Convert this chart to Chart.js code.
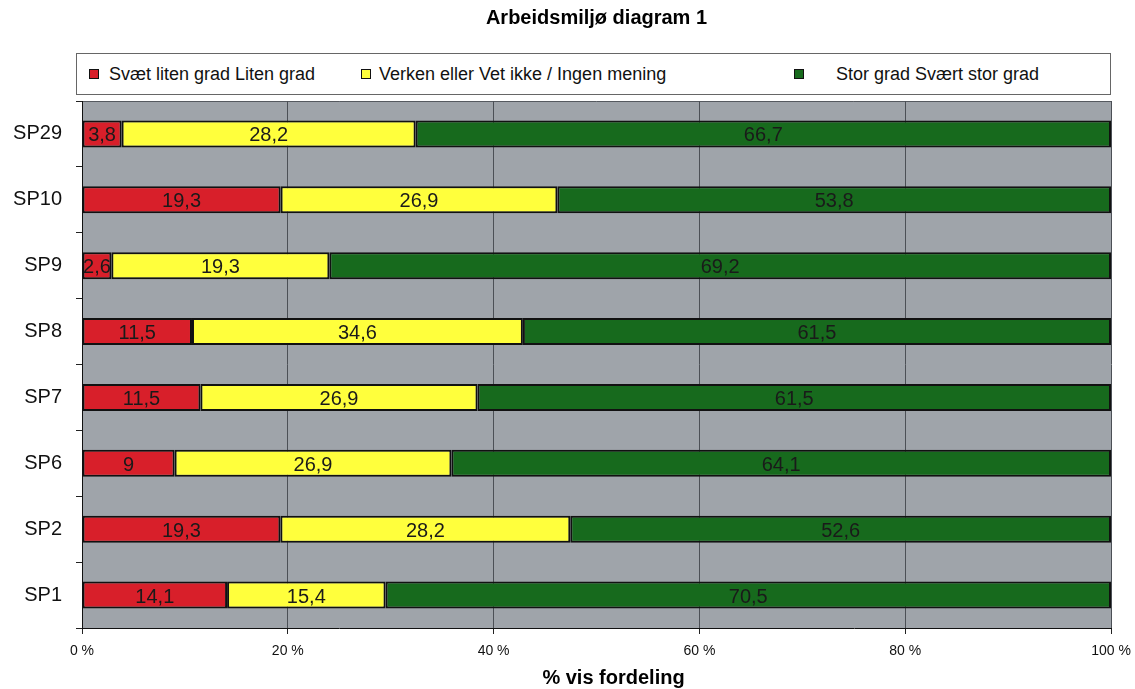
<!DOCTYPE html>
<html>
<head>
<meta charset="utf-8">
<script src="https://cdn.jsdelivr.net/npm/chart.js@4"></script>
<style>
  body { margin: 0; background: #fff; }
  #wrap { position: relative; width: 1135px; height: 689px; }
  #legend {
    position: absolute; left: 76px; top: 53px; width: 1033px; height: 40px;
    border: 1px solid #666; background: #fff;
    font-family: Arial, "Liberation Sans", sans-serif; font-size: 18px; color: #111;
  }
  .item { position: absolute; top: 0; height: 40px; line-height: 40px; white-space: nowrap; }
  .swatch {
    position: absolute; top: 15px; width: 8px; height: 8px; border: 1px solid #111;
  }
</style>
</head>
<body>
<div id="wrap">
  <canvas id="chart" width="1135" height="689"></canvas>
  <div id="legend"></div>
</div>
<script>
// Survey groups, top to bottom
const groups = ['SP29', 'SP10', 'SP9', 'SP8', 'SP7', 'SP6', 'SP2', 'SP1'];

// Answer shares per group (as printed on the bars)
const lowValues = [3.8, 19.3, 2.6, 11.5, 11.5, 9, 19.3, 14.1];
const neutralValues = [28.2, 26.9, 19.3, 34.6, 26.9, 26.9, 28.2, 15.4];
const highValues = [66.7, 53.8, 69.2, 61.5, 61.5, 64.1, 52.6, 70.5];

const seriesNames = ['Svæt liten grad Liten grad', 'Verken eller Vet ikke / Ingen mening', 'Stor grad Svært stor grad'];
const seriesColors = ['#d81f2a', '#ffff3c', '#176a1d'];
const xTicks = [0, 20, 40, 60, 80, 100];
const xTitle = '% vis fordeling';

const FONT = 'Arial, "Liberation Sans", sans-serif';

// Each row is shown as a 100 % split of its own total
const rowTotals = groups.map((g, i) => lowValues[i] + neutralValues[i] + highValues[i]);
const toPercent = arr => arr.map((v, i) => v / rowTotals[i] * 100);

const rawSeries = [lowValues, neutralValues, highValues];

const datasets = rawSeries.map((arr, k) => ({
  label: seriesNames[k],
  data: toPercent(arr),
  raw: arr,
  backgroundColor: seriesColors[k],
  borderColor: '#111',
  borderWidth: 2,
  borderSkipped: false,
  barPercentage: 0.41,
  categoryPercentage: 1
}));

// Grey plot area with a dark top edge
const plotBackground = {
  id: 'plotBackground',
  beforeDraw(chart) {
    const { ctx, chartArea: a } = chart;
    ctx.save();
    ctx.fillStyle = '#9fa4aa';
    ctx.fillRect(a.left, a.top, a.right - a.left, a.bottom - a.top);
    ctx.strokeStyle = '#55595f';
    ctx.lineWidth = 1;
    ctx.beginPath();
    ctx.moveTo(a.left, a.top + 0.5);
    ctx.lineTo(a.right, a.top + 0.5);
    ctx.stroke();
    ctx.restore();
  }
};

// Value labels in the middle of every segment, plus the x axis caption
const segmentLabels = {
  id: 'segmentLabels',
  afterDatasetsDraw(chart) {
    const { ctx } = chart;
    ctx.save();
    ctx.font = '20px ' + FONT;
    ctx.fillStyle = '#1a1a1a';
    ctx.textAlign = 'center';
    ctx.textBaseline = 'middle';
    chart.data.datasets.forEach((ds, k) => {
      chart.getDatasetMeta(k).data.forEach((bar, i) => {
        const text = String(ds.raw[i]).replace('.', ',');
        ctx.fillText(text, (bar.x + bar.base) / 2, bar.y + 2);
      });
    });
    // caption sits a little right of the axis middle
    const xs = chart.scales.x;
    ctx.font = 'bold 20px ' + FONT;
    ctx.fillStyle = '#000';
    ctx.fillText(xTitle, (xs.left + xs.right) / 2 + 17, xs.bottom - 11);
    ctx.restore();
  }
};

new Chart(document.getElementById('chart'), {
  type: 'bar',
  data: { labels: groups, datasets: datasets },
  plugins: [plotBackground, segmentLabels],
  options: {
    indexAxis: 'y',
    responsive: false,
    animation: false,
    layout: { padding: { top: 6, left: 8, right: 24, bottom: 0 } },
    plugins: {
      legend: { display: false },
      tooltip: { enabled: false },
      title: {
        display: true,
        fullSize: false,
        text: 'Arbeidsmiljø diagram 1',
        color: '#000',
        font: { family: FONT, size: 20, weight: 'bold' },
        padding: { top: 0, bottom: 71 }
      }
    },
    scales: {
      x: {
        stacked: true,
        min: 0,
        max: 100,
        afterBuildTicks: s => { s.ticks = xTicks.map(v => ({ value: v })); },
        afterFit: s => { s.height = 61; s.paddingRight = 24; s.paddingLeft = 0; },
        ticks: {
          color: '#111',
          font: { family: FONT, size: 14 },
          padding: 9,
          callback: v => v + ' %'
        },
        grid: { color: '#4c5056', lineWidth: 1, tickLength: 6, tickColor: '#222' },
        border: { color: '#111', width: 1 }
      },
      y: {
        stacked: true,
        afterFit: s => { s.width = 74; },
        ticks: {
          color: '#111',
          font: { family: FONT, size: 20 },
          padding: 14
        },
        grid: { offset: true, drawOnChartArea: false, tickLength: 6, color: '#222' },
        border: { color: '#111', width: 1 }
      }
    }
  }
});

// Boxed legend above the plot
const legendBox = document.getElementById('legend');
const legendPos = [{ sw: 12, tx: 32 }, { sw: 284, tx: 302 }, { sw: 717, tx: 759 }];
seriesNames.forEach((name, k) => {
  const sw = document.createElement('span');
  sw.className = 'swatch';
  sw.style.left = legendPos[k].sw + 'px';
  sw.style.background = seriesColors[k];
  const item = document.createElement('span');
  item.className = 'item';
  item.style.left = legendPos[k].tx + 'px';
  item.textContent = name;
  legendBox.appendChild(sw);
  legendBox.appendChild(item);
});
</script>
</body>
</html>
